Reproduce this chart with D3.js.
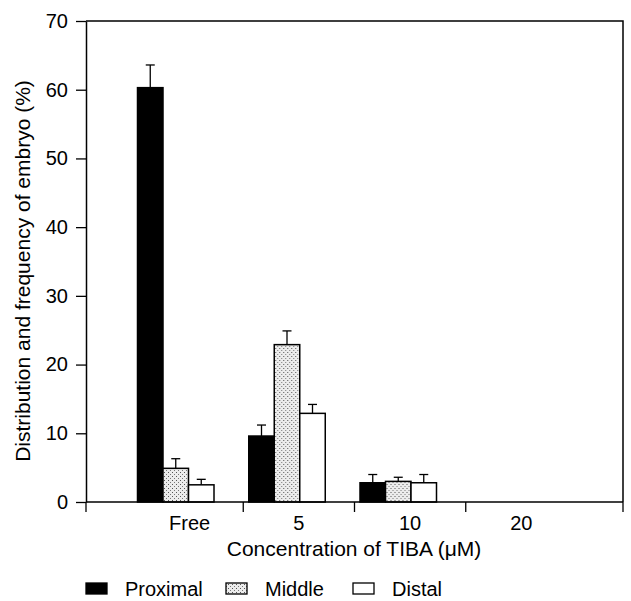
<!DOCTYPE html>
<html>
<head>
<meta charset="utf-8">
<script src="https://cdn.jsdelivr.net/npm/d3@7"></script>
<style>
  body { margin: 0; background: #fff; }
  svg { display: block; }
</style>
</head>
<body>
<div id="chart"></div>
<script>
var categories = ['Free', '5', '10', '20'];
var series = ['Proximal', 'Middle', 'Distal'];
// mean values per category, in series order
var proximal = [60.3, 9.6, 2.8, 0];
var middle = [4.9, 22.9, 3.0, 0];
var distal = [2.5, 12.9, 2.8, 0];
// top of error bar
var proximalErr = [63.6, 11.2, 4.0, 0];
var middleErr = [6.3, 24.9, 3.6, 0];
var distalErr = [3.3, 14.2, 4.0, 0];
var yTicks = [0, 10, 20, 30, 40, 50, 60, 70];

var width = 631, height = 601;
var plotLeft = 86, plotRight = 623, plotTop = 21, plotBottom = 502;
var font = 'Liberation Sans, Arial, Helvetica, sans-serif';

var svg = d3.select('#chart').append('svg')
    .attr('width', width)
    .attr('height', height);

// stipple pattern for "Middle"
var defs = svg.append('defs');
var pat = defs.append('pattern')
    .attr('id', 'dots')
    .attr('patternUnits', 'userSpaceOnUse')
    .attr('width', 4)
    .attr('height', 4);
pat.append('rect').attr('width', 4).attr('height', 4).attr('fill', '#ececec');
pat.append('rect').attr('x', 0).attr('y', 0).attr('width', 1).attr('height', 1).attr('fill', '#555');
pat.append('rect').attr('x', 2).attr('y', 2).attr('width', 1).attr('height', 1).attr('fill', '#777');

var fills = {Proximal: '#000', Middle: 'url(#dots)', Distal: '#fff'};
var values = {Proximal: proximal, Middle: middle, Distal: distal};
var errs = {Proximal: proximalErr, Middle: middleErr, Distal: distalErr};

var y = d3.scaleLinear().domain([0, 70]).range([plotBottom, plotTop]);
var x = d3.scaleBand().domain(categories).range([132, 577]);
var x1 = d3.scaleBand().domain(series).range([5.5, 82]);

// bars
categories.forEach(function(c, i){
    var g = svg.append('g').attr('transform', 'translate(' + x(c) + ',0)');
    series.forEach(function(s){
        var v = values[s][i];
        if (v <= 0) return;
        var bx = x1(s), bw = x1.bandwidth();
        // error bar
        g.append('line')
            .attr('x1', bx + bw / 2).attr('x2', bx + bw / 2)
            .attr('y1', y(v)).attr('y2', y(errs[s][i]))
            .attr('stroke', '#000').attr('stroke-width', 1.3);
        g.append('line')
            .attr('x1', bx + bw / 2 - 4.5).attr('x2', bx + bw / 2 + 4.5)
            .attr('y1', y(errs[s][i])).attr('y2', y(errs[s][i]))
            .attr('stroke', '#000').attr('stroke-width', 1.3);
        g.append('rect')
            .attr('x', bx).attr('y', y(v))
            .attr('width', bw).attr('height', y(0) - y(v))
            .attr('fill', fills[s])
            .attr('stroke', '#000').attr('stroke-width', 1.5);
    });
});

// frame: top and right
svg.append('path')
    .attr('d', 'M' + plotLeft + ',' + plotTop + 'H' + plotRight + 'V' + plotBottom)
    .attr('fill', 'none').attr('stroke', '#000').attr('stroke-width', 1.5);

// y axis
var yAxis = svg.append('g')
    .attr('transform', 'translate(' + plotLeft + ',0)')
    .call(d3.axisLeft(y).tickValues(yTicks).tickSize(10).tickPadding(8).tickSizeOuter(0));
yAxis.select('.domain').attr('stroke-width', 1.5);
yAxis.selectAll('.tick line').attr('stroke-width', 1.3);
yAxis.selectAll('text')
    .attr('font-family', font).attr('font-size', '20px').attr('fill', '#000');

// x axis: line plus ticks at band boundaries
svg.append('line')
    .attr('x1', plotLeft).attr('x2', plotRight)
    .attr('y1', plotBottom).attr('y2', plotBottom)
    .attr('stroke', '#000').attr('stroke-width', 1.5);
var xTickPos = [plotLeft].concat(categories.slice(1).map(function(c){ return x(c); })).concat([plotRight]);
svg.selectAll('.xtick').data(xTickPos).enter().append('line')
    .attr('class', 'xtick')
    .attr('x1', function(d){ return d; }).attr('x2', function(d){ return d; })
    .attr('y1', plotBottom).attr('y2', plotBottom + 10)
    .attr('stroke', '#000').attr('stroke-width', 1.3);
svg.selectAll('.xlabel').data(categories).enter().append('text')
    .attr('class', 'xlabel')
    .attr('x', function(d){ return x(d) + x.bandwidth() / 2 + (d === 'Free' ? 2 : 0); })
    .attr('y', 530)
    .attr('text-anchor', 'middle')
    .attr('font-family', font).attr('font-size', '20px')
    .text(function(d){ return d; });

// axis titles
svg.append('text')
    .attr('x', 354).attr('y', 556)
    .attr('text-anchor', 'middle')
    .attr('font-family', font).attr('font-size', '21px')
    .text('Concentration of TIBA (\u03bcM)');
svg.append('text')
    .attr('transform', 'translate(30,271) rotate(-90)')
    .attr('text-anchor', 'middle')
    .attr('font-family', font).attr('font-size', '21px')
    .text('Distribution and frequency of embryo (%)');

// legend
var legendX = [86, 226, 353];
series.forEach(function(s, i){
    svg.append('rect')
        .attr('x', legendX[i]).attr('y', 583)
        .attr('width', 21).attr('height', 11)
        .attr('fill', fills[s]).attr('stroke', '#000').attr('stroke-width', 1.3);
    svg.append('text')
        .attr('x', legendX[i] + 39).attr('y', 596)
        .attr('font-family', font).attr('font-size', '20px')
        .text(s);
});
</script>
</body>
</html>
